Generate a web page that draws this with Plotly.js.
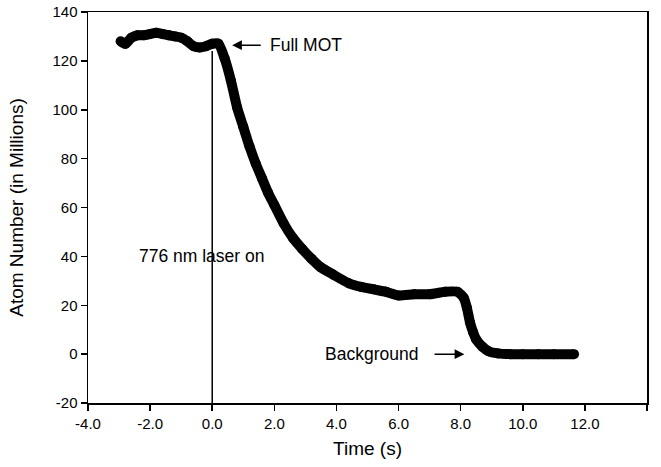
<!DOCTYPE html>
<html>
<head>
<meta charset="utf-8">
<script src="https://cdn.plot.ly/plotly-3.0.1.min.js"></script>
<style>html,body{margin:0;padding:0;background:#fff;}#chart{width:661px;height:467px;}</style>
</head>
<body>
<div id="chart"></div>
<script>
// Time (s)
const timeS = [-2.95, -2.8, -2.6, -2.4, -2.2, -2.0, -1.8, -1.6, -1.4, -1.2, -1.0, -0.8, -0.6, -0.4, -0.2,
  0.0, 0.2, 0.4, 0.6, 0.8, 1.0, 1.2, 1.4, 1.6, 1.8, 2.0, 2.3, 2.6, 2.9, 3.2, 3.5, 3.9, 4.4, 4.8,
  5.2, 5.6, 6.0, 6.5, 7.0, 7.5, 7.9, 8.1, 8.2, 8.3, 8.4, 8.5, 8.7, 8.9, 9.2, 9.6, 10.0, 10.5, 11.0, 11.65];
// Atom number (millions)
const atoms = [128, 127, 129.5, 130.5, 130.5, 131, 131.5, 131, 130.5, 130, 129.5, 128, 126, 125.5, 126,
  127, 127, 121, 112, 101, 93, 85, 78, 72, 66, 61, 53.5, 47.5, 43, 39, 35.5, 32.5, 29, 27.5,
  26.5, 25.5, 24, 24.5, 24.5, 25.5, 25.5, 23, 19, 13, 9, 6, 3, 1.2, 0.3, 0, 0, 0, 0, 0];

const xTicks = [-4, -2, 0, 2, 4, 6, 8, 10, 12, 14];
const yTicks = [-20, 0, 20, 40, 60, 80, 100, 120, 140];
const xTickText = xTicks.map(v => v.toFixed(1));
const yTickText = yTicks.map(v => String(v));

const FONT = 'Liberation Sans, Arial, sans-serif';

const trace = {
  x: timeS, y: atoms, type: 'scatter', mode: 'lines+markers',
  line: {color: '#000', width: 10, shape: 'spline', smoothing: 0.6},
  marker: {color: '#000', size: 10},
  hoverinfo: 'skip', showlegend: false
};

const layout = {
  width: 661, height: 467,
  margin: {l: 88, r: 14, t: 12, b: 64},
  paper_bgcolor: '#fff', plot_bgcolor: '#fff',
  font: {family: FONT, color: '#000', size: 15},
  showlegend: false,
  xaxis: {
    range: [-4, 14], tickvals: xTicks, ticktext: xTickText,
    showline: true, linecolor: '#000', linewidth: 1.5, mirror: true,
    ticks: 'outside', ticklen: 6, tickwidth: 1.5, tickcolor: '#000',
    showgrid: false, zeroline: false,
    tickfont: {family: FONT, size: 15, color: '#000'},
    title: {text: 'Time (s)', font: {family: FONT, size: 19, color: '#000'}, standoff: 11}
  },
  yaxis: {
    range: [-20, 140], tickvals: yTicks, ticktext: yTickText,
    showline: true, linecolor: '#000', linewidth: 1.5, mirror: true,
    ticks: 'outside', ticklen: 6, tickwidth: 1.5, tickcolor: '#000',
    showgrid: false, zeroline: false,
    tickfont: {family: FONT, size: 15, color: '#000'},
    title: {text: 'Atom Number (in Millions)', font: {family: FONT, size: 19, color: '#000'}, standoff: 24}
  },
  shapes: [
    {type: 'line', xref: 'x', yref: 'y', x0: 0, x1: 0, y0: -20, y1: 124, line: {color: '#000', width: 1.5}, layer: 'below'}
  ],
  annotations: [
    {xref: 'x', yref: 'y', x: 0.64, y: 126.4, ax: 1.61, ay: 126.4, axref: 'x', ayref: 'y',
     text: '', showarrow: true, arrowhead: 2, arrowsize: 1.3, arrowwidth: 1.5, arrowcolor: '#000'},
    {xref: 'x', yref: 'y', x: 1.8, y: 126.4, text: 'Full MOT', showarrow: false, xanchor: 'left',
     font: {family: FONT, size: 17.5, color: '#000'}},
    {xref: 'x', yref: 'y', x: -0.33, y: 40, text: '776 nm laser on', showarrow: false, xanchor: 'center',
     font: {family: FONT, size: 17.5, color: '#000'}},
    {xref: 'x', yref: 'y', x: 8.12, y: 0, ax: 7.11, ay: 0, axref: 'x', ayref: 'y',
     text: '', showarrow: true, arrowhead: 2, arrowsize: 1.3, arrowwidth: 1.5, arrowcolor: '#000'},
    {xref: 'x', yref: 'y', x: 6.69, y: 0, text: 'Background', showarrow: false, xanchor: 'right',
     font: {family: FONT, size: 17.5, color: '#000'}}
  ]
};

Plotly.newPlot('chart', [trace], layout, {displayModeBar: false, staticPlot: true});
</script>
</body>
</html>
